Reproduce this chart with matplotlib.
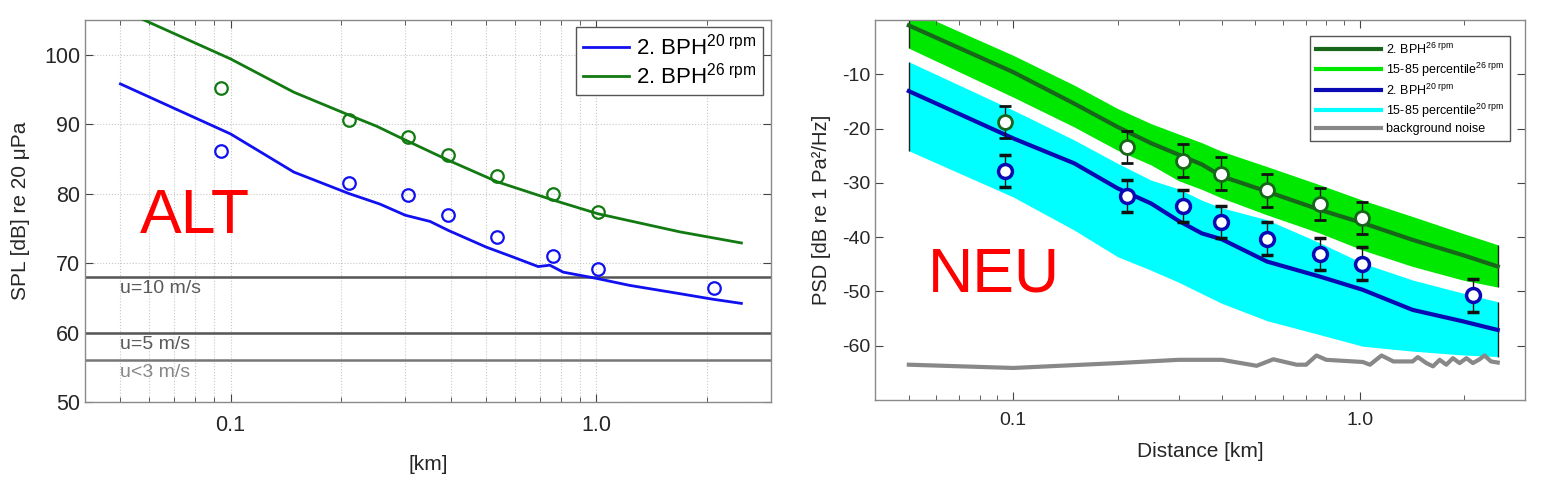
#!/usr/bin/env python3
"""
plot.py

- ALT / NEU comparison of rotor blade-pass levels vs. distance
- saves out.png
"""

import matplotlib
matplotlib.use('Agg')
import matplotlib.pyplot as plt
from matplotlib.ticker import FixedLocator, NullFormatter, LogLocator

plt.rcParams['font.family'] = ['Liberation Sans', 'DejaVu Sans']
plt.rcParams['mathtext.fontset'] = 'custom'
plt.rcParams['mathtext.rm'] = 'Liberation Sans'
plt.rcParams['mathtext.it'] = 'Liberation Sans:italic'
plt.rcParams['axes.unicode_minus'] = False

# ---- left panel (ALT) ----
alt_blue_x = [0.05, 0.1, 0.149, 0.211, 0.256, 0.30, 0.351, 0.394, 0.50,
              0.59, 0.693, 0.746, 0.811, 1.0, 1.23, 1.69, 2.08, 2.49]
alt_blue_y = [95.8, 88.6, 83.1, 80.0, 78.5, 76.9, 76.0, 74.7, 72.3,
              70.9, 69.5, 69.7, 68.7, 67.8, 66.8, 65.6, 64.8, 64.2]
alt_green_x = [0.05, 0.058, 0.1, 0.149, 0.211, 0.251, 0.29, 0.394, 0.536,
               0.759, 1.01, 1.69, 2.49]
alt_green_y = [106.5, 105.0, 99.4, 94.6, 91.3, 89.7, 88.1, 84.8, 81.7,
               79.1, 77.1, 74.5, 72.9]
alt_pts_x = [0.094, 0.211, 0.306, 0.394, 0.536, 0.759, 1.01, 2.10]
alt_pts_blue = [86.2, 81.6, 79.8, 76.9, 73.7, 71.0, 69.1, 66.4]
alt_pts_green = [95.2, 90.6, 88.1, 85.6, 82.5, 80.0, 77.4]
wind_levels = [68, 60, 56]
wind_labels = ['u=10 m/s', 'u=5 m/s', 'u<3 m/s']
wind_text_y = [66.3, 58.3, 54.2]

# ---- right panel (NEU) ----
neu_x = [0.05, 0.1, 0.15, 0.2, 0.25, 0.3, 0.35, 0.4, 0.54, 0.77, 1.02,
         1.42, 1.98, 2.5]
green_hi = [2.0, -6.5, -12.0, -16.3, -19.1, -21.0, -22.6, -24.2, -27.0,
            -30.4, -33.2, -36.2, -39.3, -41.4]
green_lo = [-5.2, -14.2, -19.7, -24.0, -26.7, -29.6, -31.2, -32.8, -35.9,
            -39.3, -42.4, -45.4, -47.9, -49.2]
green_med = [-1.0, -9.6, -15.4, -19.7, -22.7, -24.8, -26.6, -28.8, -31.6,
             -35.0, -37.4, -40.5, -43.3, -45.4]
cyan_hi = [-7.7, -16.6, -22.1, -26.4, -29.5, -31.1, -33.2, -34.6, -36.8,
           -41.1, -44.8, -47.9, -50.3, -51.9]
cyan_lo = [-24.1, -32.6, -38.7, -43.6, -46.1, -48.3, -50.4, -52.2, -55.4,
           -58.0, -60.1, -61.0, -61.7, -62.0]
blue_med = [-13.1, -21.8, -26.4, -31.0, -33.8, -37.0, -39.3, -40.4, -44.5,
            -47.3, -49.7, -53.4, -55.5, -57.1]
noise_x = [0.05, 0.1, 0.2, 0.3, 0.4, 0.504, 0.563, 0.657, 0.70, 0.75, 0.8,
           1.02, 1.07, 1.155, 1.25, 1.42, 1.47, 1.556, 1.626, 1.70, 1.776,
           1.856, 1.94, 2.03, 2.12, 2.215, 2.29, 2.39, 2.5]
noise_y = [-63.5, -64.1, -63.2, -62.6, -62.6, -63.7, -62.5, -63.5, -63.5,
           -61.8, -62.6, -63.0, -63.5, -61.8, -62.9, -62.9, -62.1, -63.2,
           -63.8, -62.6, -63.5, -62.3, -63.2, -62.3, -63.2, -62.5, -61.8,
           -62.9, -63.1]
neu_pts_x = [0.0948, 0.213, 0.308, 0.397, 0.541, 0.767, 1.018, 2.12]
neu_pts_green = [-18.8, -23.4, -25.9, -28.3, -31.4, -33.9, -36.5]
neu_pts_blue = [-27.8, -32.4, -34.3, -37.2, -40.3, -43.1, -44.9, -50.7]
neu_err = 3.0

SPINE = '#8a8a8a'


def style_log_axis(ax, tick_size):
    ax.set_xscale('log')
    ax.set_xlim(0.04, 3.0)
    ax.xaxis.set_major_locator(FixedLocator([0.1, 1.0]))
    ax.set_xticklabels(['0.1', '1.0'])
    ax.xaxis.set_minor_locator(LogLocator(base=10, subs=range(2, 10)))
    ax.xaxis.set_minor_formatter(NullFormatter())
    ax.tick_params(which='both', direction='in', top=True, right=True,
                   color='#444444', labelsize=tick_size, labelcolor='#262626')
    ax.tick_params(which='major', length=6, width=0.8)
    ax.tick_params(which='minor', length=3.5, width=0.6)
    ax.tick_params(axis='x', which='major', pad=9)
    for s in ax.spines.values():
        s.set_color(SPINE)
        s.set_linewidth(1.0)


def draw_alt(ax):
    for lvl, lab, ty, c in zip(wind_levels, wind_labels, wind_text_y,
                               ['#555555', '#555555', '#777777']):
        ax.axhline(lvl, color=c, lw=1.8, zorder=2)
        ax.text(0.05, ty, lab, color='#5a5a5a' if c == '#555555' else '#888888',
                fontsize=14, va='center', ha='left')
    ax.plot(alt_blue_x, alt_blue_y, color='#1010f0', lw=2,
            label='2. BPH$^{\\mathrm{20\\ rpm}}$', zorder=3)
    ax.plot(alt_green_x, alt_green_y, color='#117a11', lw=2,
            label='2. BPH$^{\\mathrm{26\\ rpm}}$', zorder=3)
    ax.plot(alt_pts_x, alt_pts_blue, 'o', mfc='none', mec='#1010f0',
            ms=9, mew=1.6, zorder=4)
    ax.plot(alt_pts_x[:len(alt_pts_green)], alt_pts_green, 'o', mfc='none',
            mec='#117a11', ms=9, mew=1.6, zorder=4)

    style_log_axis(ax, 15.5)
    ax.set_ylim(50, 105)
    ax.set_yticks([50, 60, 70, 80, 90, 100])
    ax.grid(True, which='both', axis='x', ls=':', color='#c8c8c8', lw=0.8)
    ax.grid(True, which='major', axis='y', ls=':', color='#c8c8c8', lw=0.8)
    ax.set_axisbelow(True)
    ax.set_xlabel('[km]', fontsize=15, color='#262626', labelpad=14)
    ax.set_ylabel('SPL [dB] re 20 μPa', fontsize=15, color='#262626',
                  labelpad=10)
    leg = ax.legend(loc='upper right', bbox_to_anchor=(0.988, 0.982),
                    borderaxespad=0, fancybox=False, fontsize=16,
                    handlelength=2.1, handletextpad=0.3, framealpha=1,
                    edgecolor='#555555', borderpad=0.3, labelspacing=0.15)
    leg.get_frame().set_linewidth(1.0)
    ax.text(0.080, 0.442, 'ALT', color='red', fontsize=45,
            transform=ax.transAxes, va='baseline', ha='left')


def draw_neu(ax):
    ax.fill_between(neu_x, green_lo, green_hi, color='#00e800', lw=0, zorder=1)
    ax.fill_between(neu_x, cyan_lo, cyan_hi, color='#00ffff', lw=0, zorder=1)
    # band end edges
    ax.vlines([neu_x[0], neu_x[-1]], [green_lo[0], green_lo[-1]],
              [green_hi[0], green_hi[-1]], color='#222222', lw=1, zorder=2)
    ax.vlines([neu_x[0], neu_x[-1]], [cyan_lo[0], cyan_lo[-1]],
              [cyan_hi[0], cyan_hi[-1]], color='#222222', lw=1, zorder=2)
    ax.plot(neu_x, green_med, color='#17661a', lw=3,
            label='2. BPH$^{\\mathrm{26\\ rpm}}$', zorder=3)
    ax.plot([], [], color='#00e800', lw=3,
            label='15-85 percentile$^{\\mathrm{26\\ rpm}}$')
    ax.plot(neu_x, blue_med, color='#0a0ab4', lw=3,
            label='2. BPH$^{\\mathrm{20\\ rpm}}$', zorder=3)
    ax.plot([], [], color='#00ffff', lw=3,
            label='15-85 percentile$^{\\mathrm{20\\ rpm}}$')
    ax.plot(noise_x, noise_y, color='#888888', lw=3,
            label='background noise', zorder=3)

    ax.errorbar(neu_pts_x[:len(neu_pts_green)], neu_pts_green, yerr=neu_err,
                fmt='o', mfc='white', mec='#17661a', ms=10, mew=2,
                ecolor='#111111', elinewidth=1, capsize=4, capthick=1,
                zorder=4)
    ax.errorbar(neu_pts_x, neu_pts_blue, yerr=neu_err, fmt='o', mfc='white',
                mec='#0a0ab4', ms=10, mew=2.5, ecolor='#111111',
                elinewidth=1, capsize=4, capthick=1, zorder=4)

    style_log_axis(ax, 14)
    ax.set_ylim(-70, 0)
    ax.set_yticks([-60, -50, -40, -30, -20, -10])
    ax.set_xlabel('Distance [km]', fontsize=15, color='#262626', labelpad=9)
    ax.set_ylabel('PSD [dB re 1 Pa²/Hz]', fontsize=14.5, color='#262626',
                  labelpad=8)
    leg = ax.legend(loc='upper right', bbox_to_anchor=(0.976, 0.958),
                    borderaxespad=0, fancybox=False, fontsize=9,
                    handlelength=5.2, handletextpad=0.4, framealpha=1,
                    edgecolor='#555555', borderpad=0.45, labelspacing=0.3)
    leg.get_frame().set_linewidth(1.0)
    ax.text(0.081, 0.285, 'NEU', color='red', fontsize=45,
            transform=ax.transAxes, va='baseline', ha='left')


def main():
    fig = plt.figure(figsize=(15.56, 4.94), dpi=100)
    ax_alt = fig.add_axes([0.0546, 0.1862, 0.4409, 0.7733])
    ax_neu = fig.add_axes([0.5625, 0.1903, 0.4177, 0.7692])
    draw_alt(ax_alt)
    draw_neu(ax_neu)
    fig.savefig('out.png', dpi=100)


if __name__ == '__main__':
    main()
